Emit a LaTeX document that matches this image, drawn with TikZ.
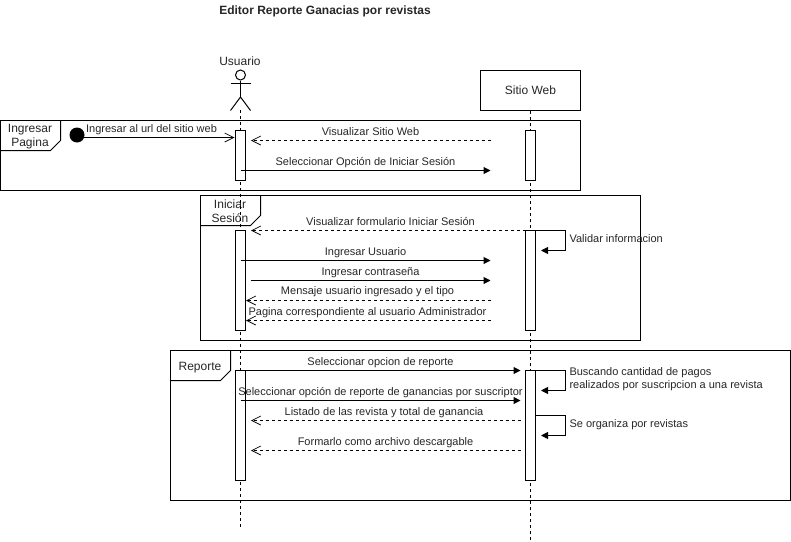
\documentclass[tikz,border=0pt]{standalone}
\usepackage{fontspec}
\setmainfont{Liberation Sans}
\usetikzlibrary{positioning}
\usetikzlibrary{arrows.meta}
\usetikzlibrary{calc}

\tikzset{
  lifeline/.style={dash pattern=on 3pt off 3pt},
  activation/.style={draw,fill=white,minimum width=10pt,inner sep=0pt},
  msgsync/.style={-{Triangle[length=7pt,width=7pt]}},
  msgopen/.style={-{Straight Barb[length=9pt,width=9pt,line width=0.75pt]}},
  msgback/.style={msgopen,dash pattern=on 3pt off 3pt},
  msgtext/.style={inner sep=0pt,anchor=base,font=\fontsize{11}{13}\selectfont,text=black!85},
  sidetext/.style={msgtext,anchor=base west,align=left},
  tagtext/.style={inner sep=0pt,font=\fontsize{12}{14}\selectfont,text=black!85,align=center},
}

\begin{document}
\begin{tikzpicture}[x=1pt,y=-1pt,line width=1pt]
\useasboundingbox (0,0) rectangle (791,541);

\node[inner sep=0pt,font=\bfseries\fontsize{12}{14}\selectfont,text=black!85] (title) at (325,11) {Editor Reporte Ganacias por revistas};

% frames
\draw (0.5,120.5) rectangle (580.5,190.5);
\draw (0.5,150.5) -- (50.5,150.5) -- (60.5,140.5) -- (60.5,120.5);
\draw (200.5,195.5) rectangle (640.5,340.5);
\draw (200.5,225.5) -- (250.5,225.5) -- (260.5,215.5) -- (260.5,195.5);
\draw (170.5,350.5) rectangle (790.5,500.5);
\draw (170.5,380.5) -- (220.5,380.5) -- (230.5,370.5) -- (230.5,350.5);
\node[tagtext] (tag1) at (30,137) {Ingresar\\Pagina};
\node[tagtext] (tag2) at (230,211) {Iniciar\\Sesión};
\node[tagtext,anchor=base] (tag3) at (200,370) {Reporte};

% lifelines
\node[tagtext] (usuario) at (240,61) {Usuario};
\node[draw,minimum width=100pt,minimum height=40pt,inner sep=0pt,font=\fontsize{12}{14}\selectfont,text=black!85] (sitio) at (530.5,90.5) {Sitio Web};
\coordinate (u0) at (240.5,110);
\coordinate (u1) at (240.5,527);
\coordinate (s1) at (530.5,540);
\draw[lifeline] (u0) -- (u1);
\draw[lifeline] (sitio.south) -- (s1);

% actor
\node[draw,circle,minimum size=10pt,inner sep=0pt] (head) at (240.5,75) {};
\coordinate (hip) at (240.5,97);
\coordinate (armL) at (230.5,83.5);
\coordinate (armR) at (250.5,83.5);
\coordinate (legL) at (230.5,110.5);
\coordinate (legR) at (250.5,110.5);
\draw (head) -- (hip);
\draw (armL) -- (armR);
\draw (legL) -- (hip) -- (legR);

% activations
\node[activation,minimum height=50pt] (ua) at (240.5,155.5) {};
\node[activation,minimum height=100pt] (ub) at (240.5,280.5) {};
\node[activation,minimum height=110pt] (uc) at (240.5,425.5) {};
\node[activation,minimum height=50pt] (sa) at (530.5,155.5) {};
\node[activation,minimum height=100pt] (sb) at (530.5,280.5) {};
\node[activation,minimum height=110pt] (sc) at (530.5,425.5) {};

% start
\node[circle,fill=black,minimum size=15pt,inner sep=0pt] (start) at (77,135) {};
\coordinate (m0a) at (84,137.5);
\coordinate (m0b) at (234.5,137.5);
\draw[msgopen] (m0a) -- (m0b);
\node[msgtext] (t0) at (151.5,132) {Ingresar al url del sitio web};

% messages
\coordinate (m1a) at (490.5,140.5);
\coordinate (m1b) at (251,140.5);
\draw[msgback] (m1a) -- (m1b);
\node[msgtext] (t1) at (370.5,135) {Visualizar Sitio Web};

\coordinate (m2a) at (240.5,170.5);
\coordinate (m2b) at (490.5,170.5);
\draw[msgsync] (m2a) -- (m2b);
\node[msgtext] (t2) at (365.5,165) {Seleccionar Opción de Iniciar Sesión};

\coordinate (m3a) at (525.5,230.5);
\coordinate (m3b) at (251,230.5);
\draw[msgback] (m3a) -- (m3b);
\node[msgtext] (t3) at (390.5,225) {Visualizar formulario Iniciar Sesión};

\coordinate (m4a) at (240.5,260.5);
\coordinate (m4b) at (490.5,260.5);
\draw[msgsync] (m4a) -- (m4b);
\node[msgtext] (t4) at (365.5,255) {Ingresar Usuario};

\coordinate (m5a) at (250.5,280.5);
\coordinate (m5b) at (490.5,280.5);
\draw[msgsync] (m5a) -- (m5b);
\node[msgtext] (t5) at (370.5,275) {Ingresar contraseña};

\coordinate (m6a) at (490.5,300.5);
\coordinate (m6b) at (246,300.5);
\draw[msgback] (m6a) -- (m6b);
\node[msgtext] (t6) at (367.5,294) {Mensaje usuario ingresado y el tipo};

\coordinate (m7a) at (490.5,320.5);
\coordinate (m7b) at (246,320.5);
\draw[msgback] (m7a) -- (m7b);
\node[msgtext] (t7) at (367.5,315) {Pagina correspondiente al usuario Administrador};

\coordinate (m8a) at (240.5,370.5);
\coordinate (m8b) at (520.5,370.5);
\draw[msgsync] (m8a) -- (m8b);
\node[msgtext] (t8) at (380.5,365) {Seleccionar opcion de reporte};

\coordinate (m9a) at (240.5,400.5);
\coordinate (m9b) at (520.5,400.5);
\draw[msgsync] (m9a) -- (m9b);
\node[msgtext] (t9) at (380.5,395) {Seleccionar opción de reporte de ganancias por suscriptor};

\coordinate (m10a) at (520.5,420.5);
\coordinate (m10b) at (251,420.5);
\draw[msgback] (m10a) -- (m10b);
\node[msgtext] (t10) at (384,415) {Listado de las revista y total de ganancia};

\coordinate (m11a) at (520.5,450.5);
\coordinate (m11b) at (251,450.5);
\draw[msgback] (m11a) -- (m11b);
\node[msgtext] (t11) at (385.5,445) {Formarlo como archivo descargable};

% self calls
\coordinate (v1) at (535.5,230.5);
\coordinate (v2) at (565.5,230.5);
\coordinate (v3) at (565.5,250.5);
\coordinate (v4) at (541,250.5);
\draw[msgsync] (v1) -- (v2) -- (v3) -- (v4);
\node[sidetext] (t12) at (569,242) {Validar informacion};

\coordinate (b1) at (535.5,370.5);
\coordinate (b2) at (565.5,370.5);
\coordinate (b3) at (565.5,390.5);
\coordinate (b4) at (541,390.5);
\draw[msgsync] (b1) -- (b2) -- (b3) -- (b4);
\node[sidetext,anchor=west] (t13) at (569,379) {Buscando cantidad de pagos\\realizados por suscripcion a una revista};

\coordinate (o1) at (535.5,415.5);
\coordinate (o2) at (565.5,415.5);
\coordinate (o3) at (565.5,435.5);
\coordinate (o4) at (541,435.5);
\draw[msgsync] (o1) -- (o2) -- (o3) -- (o4);
\node[sidetext] (t14) at (569,427) {Se organiza por revistas};
\end{tikzpicture}
\end{document}
